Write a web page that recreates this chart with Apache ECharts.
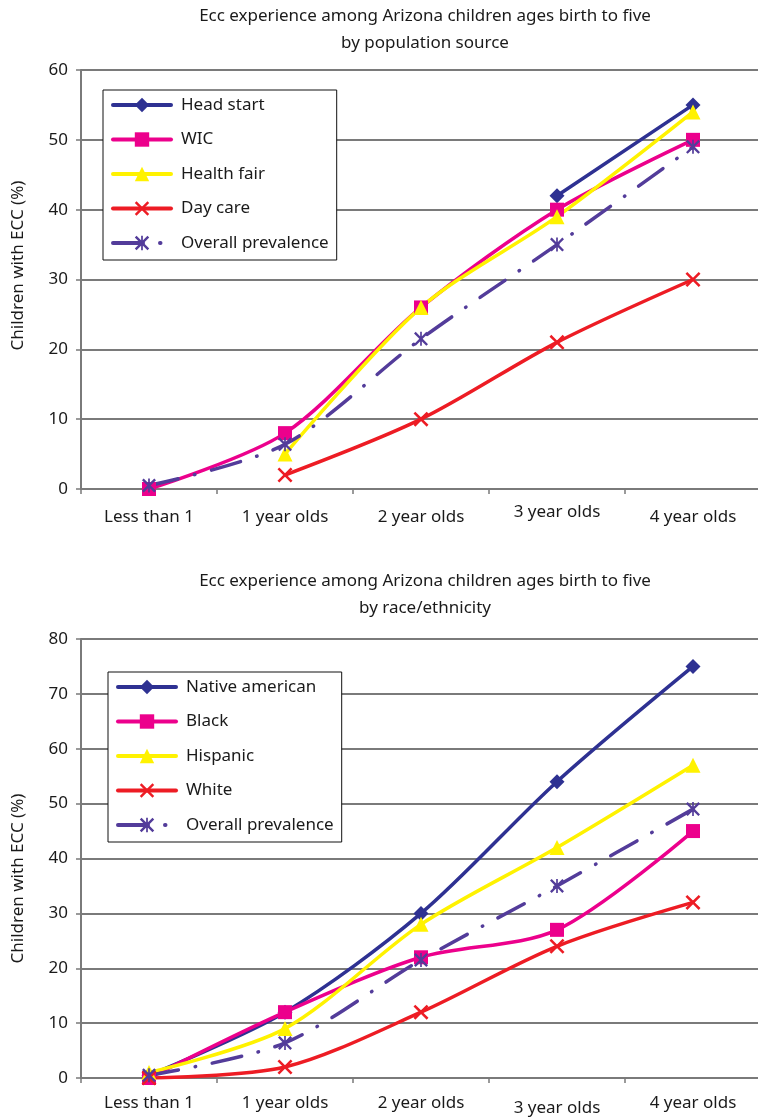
<!DOCTYPE html>
<html>
<head>
<meta charset="utf-8">
<title>Ecc experience among Arizona children ages birth to five</title>
<script src="https://cdn.jsdelivr.net/npm/echarts@6/dist/echarts.min.js"></script>
<style>
  html, body { margin: 0; padding: 0; background: #fff; }
  #chart { width: 758px; height: 1118px; }
</style>
</head>
<body>
<div id="chart"></div>
<script>
// ---- data ----
const ageGroups = ['Less than 1', '1 year olds', '2 year olds', '3 year olds', '4 year olds'];

// by population source (% of children with ECC)
const headStart  = [null, null, null, 42, 55];
const wic        = [0, 8, 26, 40, 50];
const healthFair = [null, 5, 26, 39, 54];
const dayCare    = [null, 2, 10, 21, 30];

// by race/ethnicity (% of children with ECC)
const nativeAmerican = [0.5, 12, 30, 54, 75];
const black          = [0, 12, 22, 27, 45];
const hispanic       = [1, 9, 28, 42, 57];
const white          = [0, 2, 12, 24, 32];

// shared overall prevalence
const overallPrevalence = [0.5, 6.4, 21.5, 35, 49];

// value axis ranges
const sourceAxisMax = 60;
const raceAxisMax = 80;
const axisStep = 10;

// ---- styling ----
const FONT = "'Noto Sans', 'Open Sans', sans-serif";
const TEXT = '#1a1a1a';
const GRIDC = '#7a7a7a';

const C_BLUE = '#2E3192';
const C_PINK = '#EC008C';
const C_YELLOW = '#FFF200';
const C_RED = '#ED1C24';
const C_PURPLE = '#533C9A';

const X_MARK = 'path://M0,1.2L1.2,0L5,3.8L8.8,0L10,1.2L6.2,5L10,8.8L8.8,10L5,6.2L1.2,10L0,8.8L3.8,5Z';
const STAR_MARK = 'path://M0,1.2L1.2,0L5,3.8L8.8,0L10,1.2L6.2,5L10,8.8L8.8,10L5,6.2L1.2,10L0,8.8L3.8,5Z M4.4,0L5.6,0L5.6,10L4.4,10Z';

function lineSeries(name, data, color, symbol, size, idx, dashed) {
  return {
    name: name,
    type: 'line',
    xAxisIndex: idx,
    yAxisIndex: idx,
    data: data,
    smooth: 0.3,
    connectNulls: false,
    symbol: symbol,
    symbolSize: size,
    showAllSymbol: true,
    lineStyle: {
      color: color,
      width: 3.5,
      cap: 'round',
      type: dashed ? [30, 17, 0.5, 17] : 'solid'
    },
    itemStyle: { color: color },
    emphasis: { disabled: true }
  };
}

function categoryAxis(gridIndex, thirdLineHeight, baseLineHeight) {
  return {
    type: 'category',
    gridIndex: gridIndex,
    data: ageGroups.map((name, i) => i === 3
      ? { value: name, textStyle: { lineHeight: thirdLineHeight } }
      : name),
    boundaryGap: true,
    axisLine: { show: true, lineStyle: { color: GRIDC, width: 2 } },
    axisTick: { show: true, length: 5, inside: false, lineStyle: { color: GRIDC, width: 1.5 } },
    axisLabel: {
      fontFamily: FONT, fontSize: 17, color: TEXT,
      margin: 10, lineHeight: baseLineHeight, verticalAlign: 'top'
    },
    splitLine: { show: false }
  };
}

function valueAxis(gridIndex, max, namePad) {
  return {
    type: 'value',
    gridIndex: gridIndex,
    min: 0, max: max, interval: axisStep,
    name: 'Children with ECC (%)',
    nameLocation: 'middle',
    nameGap: 54,
    nameRotate: 90,
    nameTextStyle: { fontFamily: FONT, fontSize: 17, color: TEXT, padding: namePad },
    axisLine: { show: true, lineStyle: { color: GRIDC, width: 2 } },
    axisTick: { show: true, length: 5, lineStyle: { color: GRIDC, width: 1.5 } },
    axisLabel: { fontFamily: FONT, fontSize: 17, color: TEXT, margin: 13 },
    splitLine: { show: true, lineStyle: { color: GRIDC, width: 2 } }
  };
}

function legendBox(left, top, names) {
  return {
    orient: 'vertical',
    left: left, top: top,
    data: names,
    itemWidth: 58, itemHeight: 18,
    itemGap: 14.5,
    padding: [5, 8, 7, 8],
    backgroundColor: '#ffffff',
    borderColor: '#111',
    borderWidth: 1,
    borderRadius: 0,
    selectedMode: false,
    lineStyle: { width: 4 },
    textStyle: { fontFamily: FONT, fontSize: 17, color: TEXT, lineHeight: 20, padding: [0, 0, 0, 5] }
  };
}

const chart = echarts.init(document.getElementById('chart'), null, { renderer: 'canvas' });

chart.setOption({
  animation: false,
  backgroundColor: '#ffffff',
  title: [
    {
      text: 'Ecc experience among Arizona children ages birth to five\nby population source',
      left: 420, top: -2, textAlign: 'center',
      textStyle: { fontFamily: FONT, fontSize: 17, fontWeight: 'normal', color: TEXT, lineHeight: 27 }
    },
    {
      text: 'Ecc experience among Arizona children ages birth to five\nby race/ethnicity',
      left: 420, top: 563, textAlign: 'center',
      textStyle: { fontFamily: FONT, fontSize: 17, fontWeight: 'normal', color: TEXT, lineHeight: 27 }
    }
  ],
  legend: [
    legendBox(103, 90, ['Head start', 'WIC', 'Health fair', 'Day care', 'Overall prevalence']),
    legendBox(108, 672, ['Native american', 'Black', 'Hispanic', 'White', 'Overall prevalence'])
  ],
  grid: [
    { left: 81, right: -3, top: 70, bottom: 629, outerBoundsMode: 'none' },
    { left: 81, right: -3, top: 639, bottom: 40, outerBoundsMode: 'none' }
  ],
  xAxis: [
    categoryAxis(0, 26, 36),
    categoryAxis(1, 40, 30)
  ],
  yAxis: [
    valueAxis(0, sourceAxisMax, [0, 0, 0, 28]),
    valueAxis(1, raceAxisMax, [0, 40, 0, 0])
  ],
  series: [
    lineSeries('Head start', headStart, C_BLUE, 'diamond', 15, 0, false),
    lineSeries('WIC', wic, C_PINK, 'rect', 14, 0, false),
    lineSeries('Health fair', healthFair, C_YELLOW, 'triangle', 15, 0, false),
    lineSeries('Day care', dayCare, C_RED, X_MARK, 15, 0, false),
    lineSeries('Overall prevalence', overallPrevalence, C_PURPLE, STAR_MARK, 14, 0, true),

    lineSeries('Native american', nativeAmerican, C_BLUE, 'diamond', 15, 1, false),
    lineSeries('Black', black, C_PINK, 'rect', 14, 1, false),
    lineSeries('Hispanic', hispanic, C_YELLOW, 'triangle', 15, 1, false),
    lineSeries('White', white, C_RED, X_MARK, 15, 1, false),
    lineSeries('Overall prevalence', overallPrevalence, C_PURPLE, STAR_MARK, 14, 1, true)
  ]
});
</script>
</body>
</html>
